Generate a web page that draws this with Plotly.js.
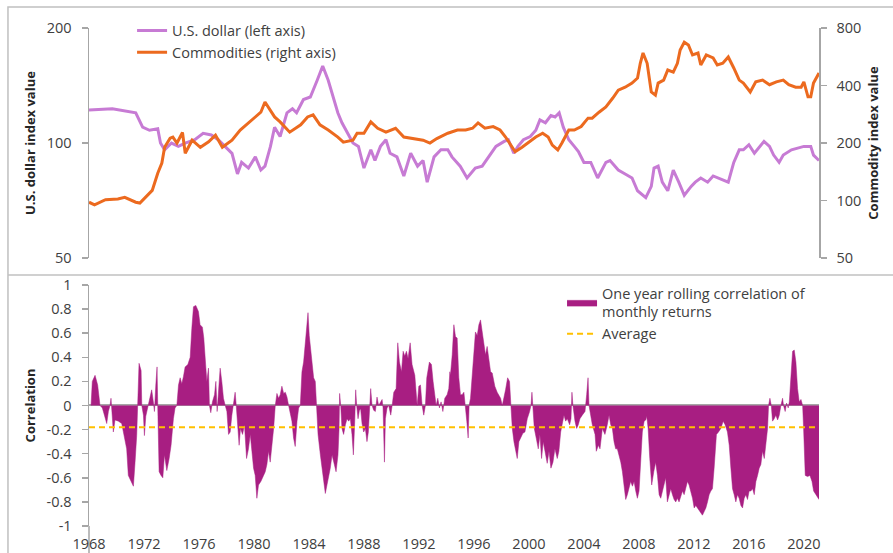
<!DOCTYPE html>
<html>
<head>
<meta charset="utf-8">
<script src="https://cdn.plot.ly/plotly-3.0.1.min.js"></script>
<style>html,body{margin:0;padding:0;background:#fff;}#chart{width:893px;height:553px;}</style>
</head>
<body>
<div id="chart"></div>
<script>
// ---- U.S. dollar index (left axis, log) ----
var usdYears = [1968.0,1969.7,1971.4,1971.9,1972.4,1973.0,1973.2,1973.5,1974.0,1974.5,1975.0,1975.7,1976.3,1976.9,1977.4,1977.9,1978.4,1978.8,1979.1,1979.6,1980.1,1980.5,1980.8,1981.2,1981.5,1981.9,1982.4,1982.8,1983.1,1983.6,1984.1,1984.6,1985.0,1985.4,1985.8,1986.1,1986.4,1986.8,1987.2,1987.6,1988.0,1988.5,1988.8,1989.2,1989.6,1989.9,1990.4,1990.9,1991.4,1991.9,1992.3,1992.6,1993.1,1993.6,1994.1,1994.4,1994.8,1995.0,1995.5,1996.1,1996.6,1997.1,1997.6,1998.2,1998.5,1998.9,1999.2,1999.6,2000.1,2000.5,2000.8,2001.2,2001.6,2001.9,2002.2,2002.5,2002.9,2003.3,2003.6,2004.0,2004.5,2005.0,2005.6,2005.9,2006.5,2007.0,2007.5,2007.9,2008.1,2008.5,2008.9,2009.1,2009.4,2009.7,2010.1,2010.5,2010.9,2011.3,2011.8,2012.1,2012.5,2013.0,2013.4,2014.1,2014.5,2014.9,2015.3,2015.6,2016.0,2016.4,2016.7,2017.1,2017.5,2017.8,2018.2,2018.5,2019.1,2019.6,2020.0,2020.5,2020.7,2021.1];
var usdVals = [122,123,120,110,108,109,100,96,100,98,100,102,106,105,102,98,94,83,89,86,92,85,87,98,110,104,120,123,120,130,132,146,159,146,130,120,113,106,100,98,86,96,90,98,102,94,92,82,94,87,90,79,92,96,96,92,89,87,81,86,87,92,98,101,102,94,98,102,104,108,115,113,118,117,120,110,102,98,95,89,89,81,89,90,85,83,81,75,74,72,77,86,87,79,75,85,79,73,77,79,81,79,82,80,79,89,96,96,99,94,97,101,98,93,89,93,96,97,98,98,93,90];

// ---- Commodity index (right axis, log) ----
var comYears = [1968.0,1968.4,1969.2,1969.7,1970.1,1970.6,1971.4,1971.7,1972.1,1972.6,1973.0,1973.3,1973.5,1973.9,1974.1,1974.4,1974.8,1975.0,1975.5,1976.1,1976.7,1977.2,1977.7,1978.4,1979.0,1979.6,1980.1,1980.5,1980.8,1981.2,1981.5,1981.9,1982.6,1983.4,1983.9,1984.3,1984.8,1985.4,1986.1,1986.5,1987.2,1987.5,1988.0,1988.5,1989.0,1989.6,1990.3,1990.9,1991.6,1992.3,1992.8,1993.3,1994.1,1994.8,1995.4,1995.9,1996.3,1996.8,1997.4,1997.9,1998.3,1998.7,1999.0,1999.5,2000.0,2000.5,2001.0,2001.4,2001.7,2002.1,2002.4,2002.9,2003.3,2003.8,2004.3,2004.6,2005.1,2005.6,2006.1,2006.5,2007.0,2007.5,2007.9,2008.1,2008.3,2008.6,2008.9,2009.2,2009.4,2009.8,2010.1,2010.5,2010.8,2011.0,2011.3,2011.6,2011.9,2012.3,2012.5,2012.9,2013.4,2013.7,2014.1,2014.5,2014.9,2015.3,2015.6,2016.1,2016.5,2017.0,2017.5,2018.0,2018.5,2018.9,2019.4,2019.8,2020.0,2020.3,2020.5,2020.7,2021.1];
var comVals = [98,95,101,102,102,104,98,97,104,113,139,157,190,212,215,200,227,177,207,190,203,220,190,207,234,255,274,290,328,298,274,258,228,249,274,281,249,234,215,202,207,225,225,258,239,228,239,215,211,207,200,211,225,234,234,239,255,239,244,234,215,195,180,190,203,215,225,215,195,184,200,234,234,244,270,270,290,309,344,378,392,412,438,523,592,523,370,356,412,427,482,470,523,614,674,652,578,592,512,578,558,512,523,564,494,427,412,370,418,427,404,418,427,404,392,392,418,349,349,412,465];

// ---- One year rolling correlation of monthly returns ----
var corrYears = [1968.15,1968.24,1968.44,1968.63,1968.80,1968.97,1969.12,1969.29,1969.41,1969.53,1969.60,1969.77,1969.89,1970.14,1970.38,1970.57,1970.74,1970.86,1971.06,1971.23,1971.35,1971.47,1971.54,1971.64,1971.79,1971.84,1971.96,1972.03,1972.13,1972.27,1972.44,1972.56,1972.69,1972.76,1972.86,1972.95,1973.00,1973.10,1973.24,1973.37,1973.49,1973.66,1973.83,1973.97,1974.14,1974.26,1974.39,1974.51,1974.63,1974.75,1974.87,1974.99,1975.19,1975.36,1975.48,1975.60,1975.77,1975.96,1976.08,1976.25,1976.35,1976.45,1976.57,1976.69,1976.76,1976.86,1976.98,1977.13,1977.23,1977.32,1977.42,1977.54,1977.66,1977.78,1977.91,1978.03,1978.15,1978.27,1978.39,1978.51,1978.63,1978.71,1978.83,1978.92,1979.02,1979.17,1979.31,1979.46,1979.60,1979.73,1979.85,1979.97,1980.09,1980.21,1980.33,1980.50,1980.70,1980.82,1980.94,1981.06,1981.18,1981.31,1981.43,1981.55,1981.67,1981.79,1981.91,1982.03,1982.16,1982.28,1982.40,1982.52,1982.64,1982.76,1982.88,1983.00,1983.13,1983.25,1983.37,1983.49,1983.61,1983.73,1983.85,1983.93,1984.02,1984.17,1984.34,1984.46,1984.53,1984.66,1984.83,1984.95,1985.07,1985.19,1985.31,1985.43,1985.55,1985.68,1985.80,1985.97,1986.11,1986.19,1986.23,1986.31,1986.40,1986.52,1986.65,1986.77,1986.89,1987.01,1987.13,1987.23,1987.33,1987.40,1987.47,1987.57,1987.67,1987.76,1987.86,1987.98,1988.10,1988.22,1988.32,1988.42,1988.49,1988.59,1988.71,1988.83,1988.95,1989.07,1989.20,1989.32,1989.39,1989.49,1989.56,1989.68,1989.80,1989.88,1989.95,1990.05,1990.17,1990.34,1990.46,1990.58,1990.73,1990.85,1990.97,1991.09,1991.21,1991.36,1991.50,1991.70,1991.87,1991.99,1992.11,1992.23,1992.35,1992.47,1992.57,1992.76,1992.91,1993.03,1993.15,1993.25,1993.37,1993.49,1993.61,1993.74,1993.88,1994.05,1994.17,1994.25,1994.29,1994.42,1994.54,1994.66,1994.78,1994.90,1995.02,1995.14,1995.27,1995.39,1995.48,1995.58,1995.65,1995.75,1995.87,1995.99,1996.11,1996.24,1996.36,1996.48,1996.60,1996.72,1996.84,1996.96,1997.09,1997.21,1997.33,1997.52,1997.69,1997.81,1997.94,1998.06,1998.18,1998.30,1998.45,1998.59,1998.69,1998.79,1998.91,1999.03,1999.15,1999.27,1999.42,1999.56,1999.71,1999.88,2000.05,2000.15,2000.22,2000.29,2000.39,2000.53,2000.68,2000.80,2000.92,2001.04,2001.21,2001.33,2001.46,2001.60,2001.75,2001.89,2002.06,2002.18,2002.31,2002.43,2002.55,2002.67,2002.79,2002.96,2003.06,2003.13,2003.20,2003.35,2003.47,2003.59,2003.71,2003.88,2004.08,2004.20,2004.30,2004.37,2004.49,2004.61,2004.81,2004.90,2005.05,2005.17,2005.34,2005.53,2005.70,2005.83,2005.95,2006.07,2006.19,2006.31,2006.43,2006.55,2006.68,2006.80,2006.92,2007.04,2007.16,2007.28,2007.40,2007.53,2007.65,2007.77,2007.89,2008.01,2008.13,2008.25,2008.38,2008.50,2008.57,2008.67,2008.79,2008.93,2009.08,2009.22,2009.35,2009.47,2009.59,2009.71,2009.83,2009.95,2010.07,2010.20,2010.32,2010.44,2010.56,2010.68,2010.80,2010.92,2011.05,2011.17,2011.29,2011.41,2011.53,2011.65,2011.77,2011.90,2012.02,2012.14,2012.26,2012.38,2012.50,2012.62,2012.75,2012.87,2012.99,2013.11,2013.23,2013.35,2013.47,2013.55,2013.64,2013.79,2013.96,2014.13,2014.27,2014.44,2014.57,2014.69,2014.81,2014.93,2015.05,2015.17,2015.29,2015.42,2015.54,2015.66,2015.78,2015.90,2016.02,2016.14,2016.27,2016.39,2016.51,2016.63,2016.75,2016.87,2016.99,2017.12,2017.24,2017.36,2017.43,2017.53,2017.63,2017.72,2017.84,2017.96,2018.09,2018.21,2018.33,2018.45,2018.52,2018.64,2018.74,2018.86,2018.94,2019.06,2019.18,2019.30,2019.42,2019.54,2019.66,2019.79,2019.91,2019.98,2020.10,2020.27,2020.44,2020.59,2020.71,2020.88,2021.00,2021.07,2021.10];
var corrVals = [0,0.20,0.25,0.17,0,-0.02,-0.08,-0.15,-0.05,0,0.06,-0.22,-0.12,-0.13,-0.15,-0.25,-0.36,-0.58,-0.63,-0.67,-0.47,-0.25,0,0.35,0.29,0,-0.08,-0.25,-0.09,-0.02,0.06,0.13,0.02,-0.05,0.17,0.32,0,-0.55,-0.58,-0.60,-0.41,-0.54,-0.44,-0.33,-0.11,-0.02,0,0.17,0.23,0.18,0.24,0.32,0.34,0.40,0.64,0.82,0.83,0.78,0.67,0.65,0.56,0.36,0.20,0.31,0,-0.06,0.03,0.09,0.20,-0.05,0.11,0.31,0.20,0.06,0,-0.05,-0.24,-0.22,-0.08,0,0.11,0,-0.19,-0.33,-0.19,-0.24,-0.16,-0.44,-0.36,-0.24,-0.38,-0.52,-0.58,-0.77,-0.66,-0.63,-0.58,-0.55,-0.49,-0.38,-0.47,-0.33,-0.19,0,0.10,0.06,0.09,0.16,0.10,0.11,0.07,0,-0.08,-0.13,-0.27,-0.34,-0.13,-0.02,0,0.28,0.36,0.53,0.64,0.77,0.58,0.42,0.23,0.20,0,-0.24,-0.41,-0.52,-0.58,-0.73,-0.66,-0.60,-0.52,-0.41,-0.47,-0.55,-0.41,-0.19,0.10,0,-0.19,-0.24,-0.16,-0.11,-0.13,-0.11,-0.24,-0.41,-0.13,0.13,0,-0.11,-0.04,-0.03,-0.15,-0.22,-0.19,-0.30,-0.22,0,0.14,0,-0.04,-0.05,0.07,0,0.03,0.05,-0.02,-0.47,-0.11,-0.02,0,-0.04,-0.08,0,0.11,0.14,0.52,0.36,0.28,0.45,0.41,0.45,0.39,0.52,0.34,0.25,0,0.16,0.17,0,-0.08,0,0.23,0.36,0.34,0.20,0.09,0,0.06,-0.02,0.03,-0.05,0.06,0.09,0.14,0.28,0.25,0.42,0.67,0.57,0.56,0.23,0.09,0.09,0.11,0,-0.13,-0.27,0,0.06,0.23,0.47,0.61,0.58,0.67,0.71,0.61,0.53,0.42,0.49,0.36,0.28,0.27,0.16,0.11,0.09,0.06,0,0.06,0.13,0.23,0.20,0,-0.19,-0.30,-0.38,-0.44,-0.30,-0.27,-0.23,-0.22,-0.11,-0.05,0,0.11,0,-0.19,-0.27,-0.36,-0.24,-0.44,-0.30,-0.41,-0.48,-0.38,-0.52,-0.47,-0.36,-0.44,-0.38,-0.22,-0.13,-0.08,-0.13,-0.11,-0.16,-0.11,0.11,0,-0.13,-0.19,-0.16,-0.11,-0.08,-0.05,0.09,0.23,0,-0.08,-0.16,-0.24,-0.38,-0.33,-0.36,-0.19,-0.24,-0.16,-0.08,-0.16,-0.19,-0.30,-0.36,-0.36,-0.41,-0.47,-0.55,-0.66,-0.78,-0.74,-0.69,-0.63,-0.67,-0.63,-0.71,-0.77,-0.71,-0.47,-0.22,-0.13,-0.12,-0.09,-0.19,-0.44,-0.66,-0.55,-0.47,-0.58,-0.74,-0.77,-0.71,-0.66,-0.60,-0.80,-0.74,-0.69,-0.74,-0.78,-0.80,-0.77,-0.80,-0.74,-0.71,-0.74,-0.69,-0.63,-0.66,-0.71,-0.77,-0.85,-0.83,-0.85,-0.87,-0.88,-0.91,-0.88,-0.85,-0.80,-0.74,-0.71,-0.69,-0.52,-0.33,-0.24,-0.22,-0.19,-0.13,-0.16,-0.22,-0.33,-0.52,-0.69,-0.74,-0.80,-0.74,-0.77,-0.83,-0.85,-0.77,-0.74,-0.78,-0.71,-0.71,-0.69,-0.74,-0.63,-0.58,-0.52,-0.49,-0.38,-0.44,-0.30,-0.19,0,0.06,0,-0.13,-0.11,-0.08,-0.12,-0.08,0,0.06,0,-0.05,0.02,-0.02,0.03,0.23,0.45,0.46,0.36,0.14,0.03,0.05,0,-0.19,-0.58,-0.59,-0.58,-0.63,-0.71,-0.74,-0.76,-0.78,-0.78];
var corrAverage = -0.18;

// ---- tick labels ----
var yearTicks = [1968,1972,1976,1980,1984,1988,1992,1996,2000,2004,2008,2012,2016,2020];
var usdTicks = [50,100,200];
var comTicks = [50,100,200,400,800];
var corrTickVals = [-1,-0.8,-0.6,-0.4,-0.2,0,0.2,0.4,0.6,0.8,1];
var corrTickText = ['-1','-0.8','-0.6','-0.4','-0.2','0','0.2','0.4','0.6','0.8','1'];

var xRange = [1968, 2021.1];
var FONT = 'Open Sans, sans-serif';
var AX = '#a6a6a6';

var traces = [
  {x: usdYears, y: usdVals, xaxis: 'x', yaxis: 'y', type: 'scatter', mode: 'lines',
   name: 'U.S. dollar (left axis)', line: {color: '#c77bd4', width: 3}, legend: 'legend', legendgroup: 'a'},
  {x: comYears, y: comVals, xaxis: 'x', yaxis: 'y2', type: 'scatter', mode: 'lines',
   name: 'Commodities (right axis)', line: {color: '#ec6a1f', width: 3}, legend: 'legend', legendgroup: 'b'},
  {x: corrYears, y: corrVals, xaxis: 'x2', yaxis: 'y3', type: 'scatter', mode: 'lines', fill: 'tozeroy',
   fillcolor: '#a81e82', line: {color: '#a81e82', width: 0.5},
   name: 'One year rolling correlation of<br>monthly returns', legend: 'legend2', legendgroup: 'c'},
  {x: xRange, y: [corrAverage, corrAverage], xaxis: 'x2', yaxis: 'y3', type: 'scatter', mode: 'lines',
   line: {color: '#ffc000', width: 2, dash: '6px,4px'}, name: 'Average', legend: 'legend2', legendgroup: 'd'}
];

var layout = {
  width: 893, height: 553,
  margin: {l: 89, r: 74, t: 28, b: 27},
  paper_bgcolor: '#ffffff', plot_bgcolor: 'rgba(0,0,0,0)',
  font: {family: FONT, size: 14, color: '#404040'},
  showlegend: true,
  xaxis: {domain: [0, 1], range: xRange, anchor: 'y', visible: false, fixedrange: true},
  xaxis2: {domain: [0, 1], range: xRange, anchor: 'y3', tickmode: 'array', tickvals: yearTicks,
           ticktext: yearTicks.map(String), showgrid: false, zeroline: false, showline: false,
           ticks: 'outside', ticklen: 5, tickcolor: 'rgba(0,0,0,0)', tickfont: {size: 14.5, color: '#404040'}},
  yaxis: {domain: [0.538, 1], type: 'log', range: [Math.log10(50), Math.log10(200)], anchor: 'x',
          tickmode: 'array', tickvals: usdTicks, ticktext: usdTicks.map(String),
          showgrid: false, zeroline: false, showline: true, linecolor: AX, linewidth: 1.5,
          ticks: 'outside', ticklen: 6, tickcolor: AX, tickwidth: 1.5, ticklabelstandoff: 7,
          tickfont: {size: 14.5, color: '#404040'},
          title: {text: '<b>U.S. dollar index value</b>', font: {size: 13, color: '#262626'}, standoff: 8}},
  yaxis2: {type: 'log', range: [Math.log10(50), Math.log10(800)], overlaying: 'y', side: 'right', anchor: 'x',
           tickmode: 'array', tickvals: comTicks, ticktext: comTicks.map(String),
           showgrid: false, zeroline: false, showline: true, linecolor: AX, linewidth: 1.5,
           ticks: 'outside', ticklen: 6, tickcolor: AX, tickwidth: 1.5, ticklabelstandoff: 7,
           tickfont: {size: 14.5, color: '#404040'},
           title: {text: '<b>Commodity index value</b>', font: {size: 13, color: '#262626'}, standoff: 8}},
  yaxis3: {domain: [0, 0.484], range: [-1, 1], anchor: 'x2',
           tickmode: 'array', tickvals: corrTickVals, ticktext: corrTickText,
           showgrid: false, zeroline: true, zerolinecolor: AX, zerolinewidth: 2,
           showline: true, linecolor: AX, linewidth: 1.5,
           ticks: 'outside', ticklen: 6, tickcolor: AX, tickwidth: 1.5, ticklabelstandoff: 7,
           tickfont: {size: 14.5, color: '#404040'},
           title: {text: '<b>Correlation</b>', font: {size: 13, color: '#262626'}, standoff: 8}},
  legend: {x: 0.059, y: 1.027, xanchor: 'left', yanchor: 'top', bgcolor: 'rgba(0,0,0,0)',
           font: {size: 14.5, color: '#404040'}, tracegroupgap: 0, itemwidth: 30},
  legend2: {x: 0.648, y: 0.5, xanchor: 'left', yanchor: 'top', bgcolor: 'rgba(0,0,0,0)',
            font: {size: 14.5, color: '#404040'}, tracegroupgap: 0, itemwidth: 30},
  shapes: [
    {type: 'rect', xref: 'paper', yref: 'paper', x0: -0.111, x1: 1.3, y0: -0.3, y1: 1.042,
     line: {color: '#c0c0c0', width: 1.5}, fillcolor: 'rgba(0,0,0,0)', layer: 'below'},
    {type: 'line', xref: 'paper', yref: 'paper', x0: -0.111, x1: 1.3, y0: 0.504, y1: 0.504,
     line: {color: '#c0c0c0', width: 1.5}, layer: 'below'},
    {type: 'line', xref: 'paper', yref: 'paper', x0: 0, x1: 0, y0: -0.06, y1: 0,
     line: {color: AX, width: 1.5}, layer: 'below'}
  ]
};

Plotly.newPlot('chart', traces, layout, {staticPlot: true, displayModeBar: false});
</script>
</body>
</html>
